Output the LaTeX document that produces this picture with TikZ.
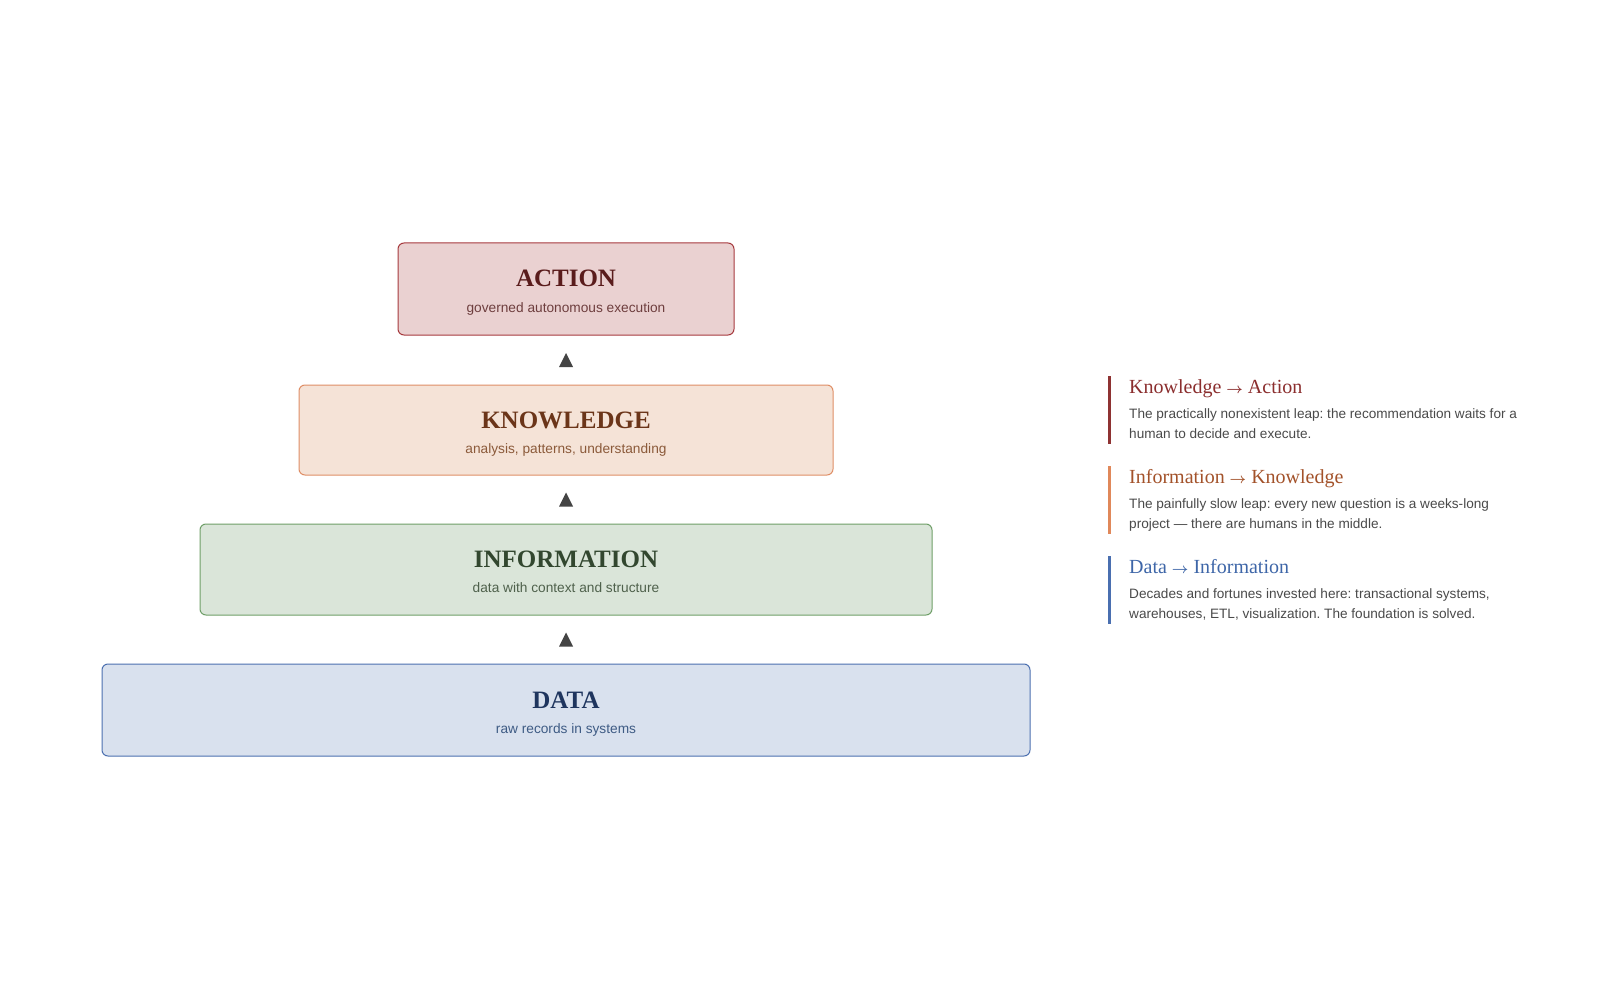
\documentclass[tikz,border=0pt]{standalone}
\usepackage{fontspec}
\setmainfont{Liberation Serif}
\setsansfont{Liberation Sans}
\usetikzlibrary{calc}
\frenchspacing
\definecolor{actfill}{HTML}{EAD1D1}
\definecolor{actline}{HTML}{A63A3E}
\definecolor{acttxt}{HTML}{5A1C1C}
\definecolor{actsub}{HTML}{6E3E3E}
\definecolor{knofill}{HTML}{F5E3D7}
\definecolor{knoline}{HTML}{DF8E66}
\definecolor{knotxt}{HTML}{6B3519}
\definecolor{knosub}{HTML}{8B5A3A}
\definecolor{inffill}{HTML}{DAE5D9}
\definecolor{infline}{HTML}{6F9F68}
\definecolor{inftxt}{HTML}{32472F}
\definecolor{infsub}{HTML}{4F614C}
\definecolor{datfill}{HTML}{D9E1EE}
\definecolor{datline}{HTML}{4C70B0}
\definecolor{dattxt}{HTML}{1F355E}
\definecolor{datsub}{HTML}{3E5B84}
\definecolor{hdone}{HTML}{8B2E2E}
\definecolor{barone}{HTML}{8E3232}
\definecolor{hdtwo}{HTML}{A3522A}
\definecolor{bartwo}{HTML}{E0885A}
\definecolor{hdthree}{HTML}{3E66A8}
\definecolor{barthree}{HTML}{4A6FB0}
\definecolor{bodytxt}{HTML}{4A4A4A}
\definecolor{tricol}{HTML}{444444}
\newcommand{\myarr}{{\fontsize{15}{16}\selectfont$\boldsymbol{\rightarrow}$}}
\usepackage{amsmath}
\usepackage{bm}
\renewcommand{\myarr}{{\fontsize{15}{16}\selectfont$\bm{\rightarrow}$}}
\tikzset{
  tier/.style={draw, rounded corners=6pt, line width=1pt, inner sep=0pt},
  ttl/.style={font=\fontsize{25}{28}\selectfont\bfseries, anchor=base, inner sep=0pt},
  sub/.style={font=\sffamily\fontsize{13.7}{16}\selectfont, anchor=base, inner sep=0pt},
  hd/.style={font=\fontsize{20}{22}\selectfont, anchor=base west, inner sep=0pt},
  bodyline/.style={font=\sffamily\fontsize{13.6}{16}\selectfont, anchor=base west, inner sep=0pt, text=bodytxt},
}
\begin{document}
\begin{tikzpicture}[x=1pt,y=-1pt]
\useasboundingbox[fill=white] (0,0) rectangle (1600,1000);

% tiers
\node[tier, draw=actline, fill=actfill, minimum width=336pt, minimum height=92pt] (action) at (566,289) {};
\node[tier, draw=knoline, fill=knofill, minimum width=534pt, minimum height=90pt] (knowledge) at (566,430) {};
\node[tier, draw=infline, fill=inffill, minimum width=732pt, minimum height=91pt] (information) at (566,569.5) {};
\node[tier, draw=datline, fill=datfill, minimum width=928pt, minimum height=92pt] (data) at (566,710) {};

\node[ttl, text=acttxt] (actionT) at ($(action.center)+(0,-2)$) {ACTION};
\node[sub, text=actsub] (actionS) at ($(action.center)+(0,23)$) {governed autonomous execution};
\node[ttl, text=knotxt] (knowledgeT) at ($(knowledge.center)+(0,-2)$) {KNOWLEDGE};
\node[sub, text=knosub] (knowledgeS) at ($(knowledge.center)+(0,23)$) {analysis, patterns, understanding};
\node[ttl, text=inftxt] (informationT) at ($(information.center)+(0,-2)$) {INFORMATION};
\node[sub, text=infsub] (informationS) at ($(information.center)+(0,23)$) {data with context and structure};
\node[ttl, text=dattxt] (dataT) at ($(data.center)+(0,-2)$) {DATA};
\node[sub, text=datsub] (dataS) at ($(data.center)+(0,23)$) {raw records in systems};

% triangles
\coordinate (m1) at ($(action.south)!0.5!(knowledge.north)$);
\coordinate (m2) at ($(knowledge.south)!0.5!(information.north)$);
\coordinate (m3) at ($(information.south)!0.5!(data.north)$);
\foreach \m in {m1,m2,m3}{
  \fill[tricol] ($(\m)+(-7,7)$) -- ($(\m)+(7,7)$) -- ($(\m)+(0,-7)$) -- cycle;
}

% right panel
\fill[barone] (1108,376) rectangle (1110.7,444);
\fill[bartwo] (1108,466) rectangle (1110.7,534);
\fill[barthree] (1108,556) rectangle (1110.7,624);

\node[hd, text=hdone] (h1) at (1129,393.3) {Knowledge \myarr{} Action};
\node[bodyline] (b1a) at (1129,418.3) {The practically nonexistent leap: the recommendation waits for a};
\node[bodyline] (b1b) at (1129,438.3) {human to decide and execute.};

\node[hd, text=hdtwo] (h2) at (1129,483.3) {Information \myarr{} Knowledge};
\node[bodyline] (b2a) at (1129,508.3) {The painfully slow leap: every new question is a weeks-long};
\node[bodyline] (b2b) at (1129,528.3) {project — there are humans in the middle.};

\node[hd, text=hdthree] (h3) at (1129,573.3) {Data \myarr{} Information};
\node[bodyline] (b3a) at (1129,598.3) {Decades and fortunes invested here: transactional systems,};
\node[bodyline] (b3b) at (1129,618.3) {warehouses, ETL, visualization. The foundation is solved.};
\end{tikzpicture}
\end{document}
